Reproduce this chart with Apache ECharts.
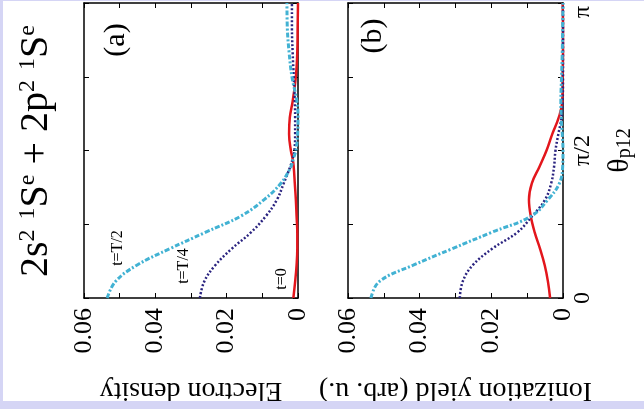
<!DOCTYPE html>
<html>
<head>
<meta charset="utf-8">
<script src="https://cdn.jsdelivr.net/npm/echarts@6/dist/echarts.min.js"></script>
<style>
html, body { margin: 0; padding: 0; width: 644px; height: 409px; overflow: hidden; background: #d5d5f5; }
#chart { position: absolute; left: 3px; top: 1px; width: 641px; height: 400px; background: #fff; }
</style>
</head>
<body>
<div id="chart"></div>
<script>
// angle theta_p12 in degrees (0..180 = 0..pi)
var thetaA = [0, 10, 20, 30, 40, 50, 60, 70, 80, 85, 90, 100, 110, 120, 135, 150, 165, 180];
// (a) electron density
var densA_T2 = [0.0535, 0.0512, 0.0452, 0.0360, 0.0260, 0.0160, 0.0095, 0.0048, 0.0020, 0.0013, 0.0006, 0.0001, 0.0000, 0.0003, 0.0017, 0.0025, 0.0030, 0.0031];
var densA_T4 = [0.0275, 0.0263, 0.0232, 0.0186, 0.0132, 0.0090, 0.0059, 0.0040, 0.0022, 0.0015, 0.0010, 0.0008, 0.0008, 0.0009, 0.0012, 0.0015, 0.0017, 0.0017];
var densA_T0 = [0.0013, 0.0008, 0.0004, 0.0002, 0.0002, 0.0004, 0.0006, 0.0009, 0.0012, 0.0015, 0.0020, 0.0025, 0.0023, 0.0015, 0.0006, 0.0002, 0.0001, 0.0000];

var thetaB = [0, 10, 20, 30, 40, 50, 60, 70, 80, 90, 100, 110, 120, 135, 150, 165, 180];
// (b) ionization yield
var yieldB_T2 = [0.0536, 0.0513, 0.0418, 0.0310, 0.0200, 0.0088, 0.0042, 0.0010, 0.0001, 0.0000, 0.0002, 0.0005, 0.0006, 0.0004, 0.0002, 0.0001, 0.0000];
var yieldB_T4 = [0.0288, 0.0280, 0.0252, 0.0198, 0.0128, 0.0086, 0.0050, 0.0033, 0.0025, 0.0021, 0.0013, 0.0004, 0.0001, 0.0000, 0.0000, 0.0000, 0.0000];
var yieldB_T0 = [0.0036, 0.0042, 0.0051, 0.0064, 0.0079, 0.0090, 0.0095, 0.0087, 0.0066, 0.0046, 0.0030, 0.0012, 0.0002, 0.0001, 0.0000, 0.0000, 0.0001];

var densTicks = ['0', '', '0.02', '', '0.04', '', '0.06'];
var thetaTicks = ['0', '', 'π/2', '', '{top|π}'];

var serif = '"Liberation Serif", "Times New Roman", serif';
var colT2 = '#42b2d3', colT4 = '#2b2480', colT0 = '#e3161c';

function pairs(theta, vals)
{
	var out = [];
	for (var i = 0; i < theta.length; i++) out.push([vals[i], theta[i]]);
	return out;
}

function densAxis(grid, pos, labels, name)
{
	return {
		type: 'value', gridIndex: grid, position: pos, min: 0, max: 0.06, interval: 0.01, inverse: true,
		axisLine: { onZero: false, lineStyle: { color: '#000', width: 1.5 } },
		axisTick: { inside: true, length: 5, lineStyle: { color: '#000', width: 1 } },
		splitLine: { show: false },
		axisLabel: {
			show: labels, rotate: 90, margin: 10, color: '#000', fontFamily: serif, fontSize: 26,
			formatter: function(v) { return densTicks[Math.round(v / 0.01)] || ''; }
		},
		name: name || '', nameLocation: 'middle', nameRotate: 180, nameGap: 78,
		nameTextStyle: { color: '#000', fontFamily: serif, fontSize: 28 }
	};
}

function thetaAxis(grid, pos, labels, name)
{
	return {
		type: 'value', gridIndex: grid, position: pos, min: 0, max: 180, interval: 45,
		axisLine: { onZero: false, lineStyle: { color: '#000', width: 1.5 } },
		axisTick: { inside: true, length: 5, lineStyle: { color: '#000', width: 1 } },
		splitLine: { show: false },
		axisLabel: {
			show: labels, rotate: 90, margin: 8, color: '#000', fontFamily: serif, fontSize: 24,
			formatter: function(v) { return thetaTicks[Math.round(v / 45)] || ''; },
			rich: { top: { fontFamily: serif, fontSize: 24, color: '#000', padding: [0, 18, 0, 0] } }
		},
		name: name || '', nameLocation: 'middle', nameRotate: 90, nameGap: 42,
		nameTextStyle: {
			color: '#000', fontFamily: serif, fontSize: 30,
			rich: { s: { fontFamily: serif, fontSize: 20, color: '#000', verticalAlign: 'bottom', lineHeight: 12 } }
		}
	};
}

function line(xi, yi, data, color, type, width)
{
	return {
		type: 'line', xAxisIndex: xi, yAxisIndex: yi, data: data, smooth: 0.4, showSymbol: false,
		lineStyle: { color: color, type: type, width: width }, z: 3
	};
}

var chart = echarts.init(document.getElementById('chart'));

var options =
{
	backgroundColor: '#fff',
	animation: false,
	grid:
	[
		{ left: 81, top: 2, width: 214, height: 295, outerBoundsMode: 'none', containLabel: false },
		{ left: 345, top: 2, width: 215, height: 295, outerBoundsMode: 'none', containLabel: false }
	],
	xAxis:
	[
		densAxis(0, 'bottom', true, 'Electron density'),
		densAxis(0, 'top', false),
		densAxis(1, 'bottom', true, 'Ionization yield (arb. u.)'),
		densAxis(1, 'top', false)
	],
	yAxis:
	[
		thetaAxis(0, 'right', false),
		thetaAxis(0, 'left', false),
		thetaAxis(1, 'right', true, 'θ{s|p12}'),
		thetaAxis(1, 'left', false)
	],
	series:
	[
		line(0, 0, pairs(thetaA, densA_T0), colT0, 'solid', 2.5),
		line(0, 0, pairs(thetaA, densA_T4), colT4, [2, 2], 2.5),
		line(0, 0, pairs(thetaA, densA_T2), colT2, [5, 2, 2, 2], 3),
		line(2, 2, pairs(thetaB, yieldB_T0), colT0, 'solid', 2.5),
		line(2, 2, pairs(thetaB, yieldB_T4), colT4, [2, 2], 2.5),
		line(2, 2, pairs(thetaB, yieldB_T2), colT2, [5, 2, 2, 2], 3)
	],
	graphic:
	[
		{
			type: 'text', x: 33, y: 150, rotation: Math.PI / 2,
			style: {
				text: '2s{s|2} {s|1}S{s|e} + 2p{s|2} {s|1}S{s|e}',
				fontFamily: serif, fontSize: 40, fill: '#000', align: 'center', verticalAlign: 'middle',
				rich: { s: { fontFamily: serif, fontSize: 24, fill: '#000', verticalAlign: 'top' } }
			}
		},
		{ type: 'text', x: 113, y: 39, rotation: Math.PI / 2, style: { text: '(a)', fontFamily: serif, fontSize: 30, fill: '#000', align: 'center', verticalAlign: 'middle' } },
		{ type: 'text', x: 370, y: 35, rotation: Math.PI / 2, style: { text: '(b)', fontFamily: serif, fontSize: 30, fill: '#000', align: 'center', verticalAlign: 'middle' } },
		{ type: 'text', x: 115, y: 247, rotation: Math.PI / 2, style: { text: 't=T/2', fontFamily: serif, fontSize: 16, fill: '#000', align: 'center', verticalAlign: 'middle' } },
		{ type: 'text', x: 181, y: 265, rotation: Math.PI / 2, style: { text: 't=T/4', fontFamily: serif, fontSize: 16, fill: '#000', align: 'center', verticalAlign: 'middle' } },
		{ type: 'text', x: 279, y: 278, rotation: Math.PI / 2, style: { text: 't=0', fontFamily: serif, fontSize: 16, fill: '#000', align: 'center', verticalAlign: 'middle' } }
	]
};

chart.setOption(options);
</script>
</body>
</html>
